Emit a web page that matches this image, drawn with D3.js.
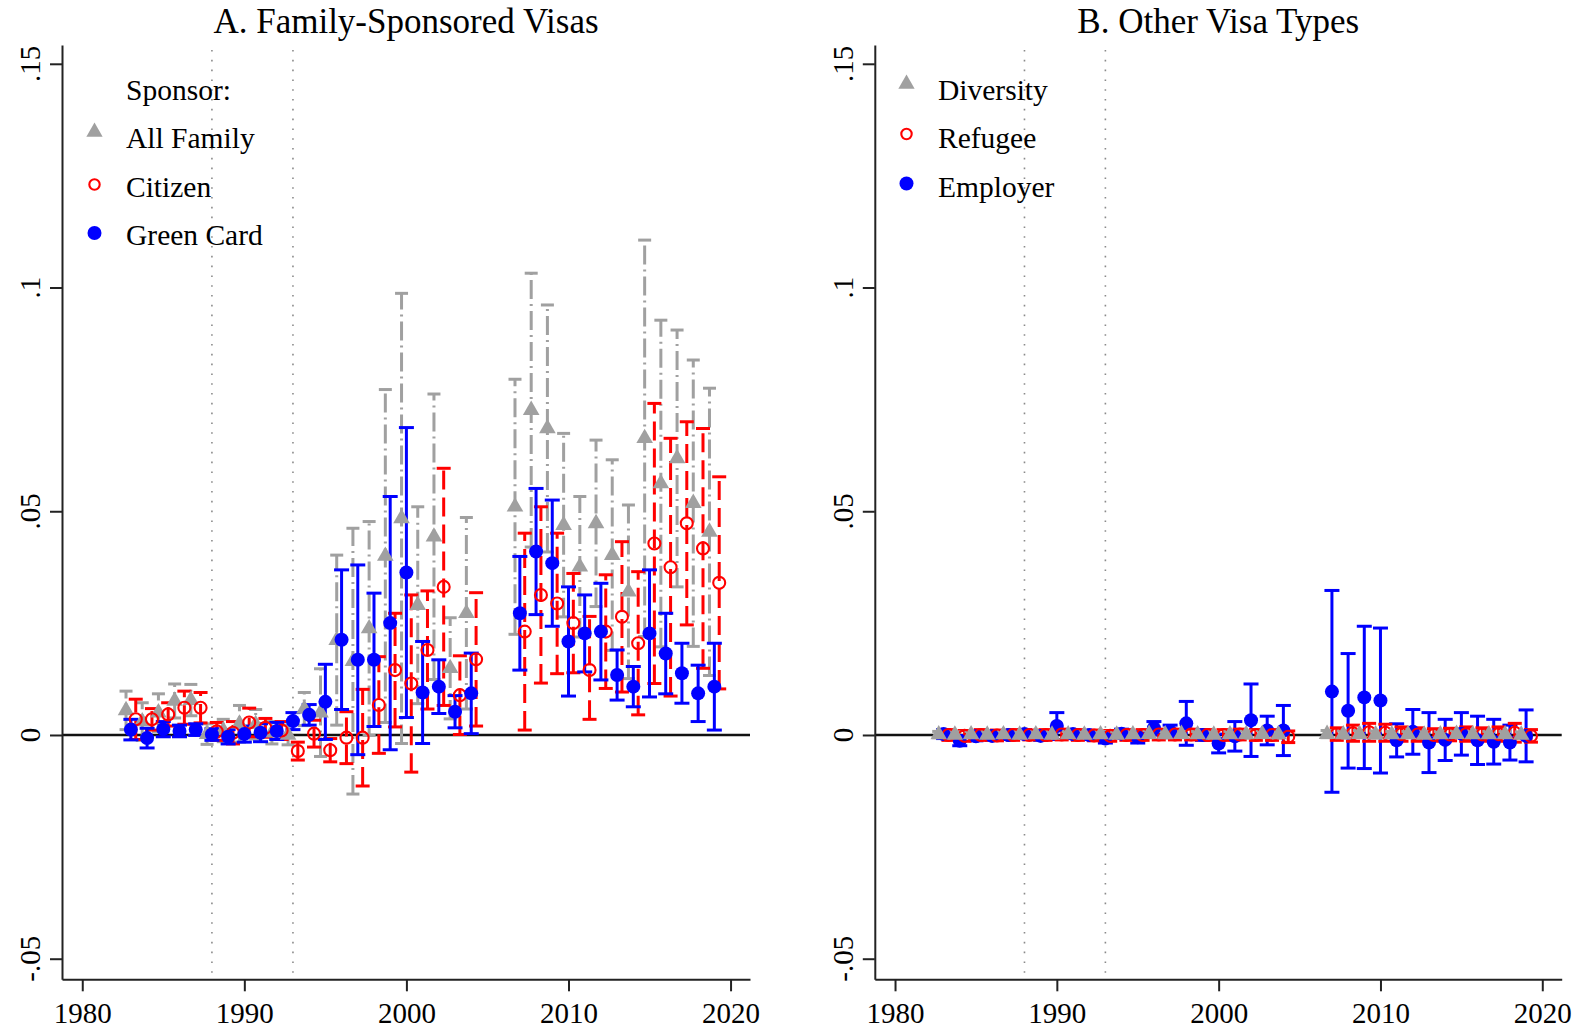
<!DOCTYPE html>
<html><head><meta charset="utf-8">
<script src="https://cdn.jsdelivr.net/npm/d3@7"></script>
<style>
html,body{margin:0;padding:0;background:#fff;}
svg{display:block;font-family:"Liberation Serif","Times New Roman",Times,serif;}
</style></head><body>
<svg id="chart" width="1580" height="1032"></svg>
<script>
// ---------------- DATA ----------------
const years = [1983,1984,1985,1986,1987,1988,1989,1990,1991,1992,1993,1994,1995,1996,1997,1998,1999,2000,2001,2002,2003,2004,
               2007,2008,2009,2010,2011,2012,2013,2014,2015,2016,2017,2018,2019];

// Panel A: Family-sponsored visas
const familyEst = [0.0055,0.0030,0.0050,0.0076,0.0078,0.0002,0.0010,0.0025,0.0024,0.0005,0.0000,0.0058,0.0050,0.0212,0.0165,0.0238,0.0400,0.0484,0.0290,0.0443,0.0149,0.0272,
                   0.0510,0.0726,0.0685,0.0469,0.0376,0.0473,0.0402,0.0320,0.0663,0.0562,0.0618,0.0518,0.0454];
const familyHi  = [0.0098,0.0072,0.0092,0.0114,0.0113,0.0025,0.0035,0.0066,0.0057,0.0030,0.0022,0.0095,0.0148,0.0402,0.0462,0.0477,0.0772,0.0987,0.0510,0.0762,0.0262,0.0486,
                   0.0795,0.1032,0.0961,0.0674,0.0533,0.0659,0.0615,0.0514,0.1106,0.0927,0.0905,0.0838,0.0775];
const familyLo  = [0.0012,-0.0012,0.0008,0.0038,0.0043,-0.0021,-0.0015,-0.0016,-0.0009,-0.0020,-0.0022,0.0021,-0.0048,0.0022,-0.0132,-0.0001,0.0028,-0.0019,0.0070,0.0124,0.0036,0.0058,
                   0.0225,0.0420,0.0409,0.0264,0.0219,0.0287,0.0189,0.0126,0.0220,0.0197,0.0331,0.0198,0.0133];

const citizenEst = [0.0035,0.0035,0.0046,0.0061,0.0061,0.0008,0.0005,0.0028,0.0016,0.0010,-0.0036,0.0003,-0.0034,-0.0006,-0.0006,0.0067,0.0145,0.0115,0.0190,0.0331,0.0089,0.0169,
                    0.0231,0.0313,0.0294,0.0250,0.0145,0.0231,0.0264,0.0205,0.0428,0.0375,0.0473,0.0417,0.0340];
const citizenHi  = [0.0080,0.0059,0.0072,0.0098,0.0095,0.0028,0.0030,0.0060,0.0037,0.0030,-0.0016,0.0033,-0.0008,0.0052,0.0102,0.0175,0.0272,0.0313,0.0322,0.0596,0.0177,0.0318,
                    0.0451,0.0510,0.0451,0.0361,0.0265,0.0358,0.0432,0.0365,0.0741,0.0663,0.0700,0.0685,0.0577];
const citizenLo  = [-0.0010,0.0011,0.0020,0.0024,0.0027,-0.0012,-0.0020,-0.0004,-0.0005,-0.0010,-0.0056,-0.0027,-0.0060,-0.0064,-0.0114,-0.0041,0.0018,-0.0083,0.0058,0.0066,0.0001,0.0020,
                    0.0011,0.0116,0.0137,0.0139,0.0035,0.0104,0.0096,0.0045,0.0115,0.0087,0.0246,0.0149,0.0103];

const greenEst = [0.0012,-0.0007,0.0013,0.0009,0.0012,0.0001,-0.0004,0.0002,0.0005,0.0009,0.0031,0.0045,0.0074,0.0213,0.0168,0.0168,0.0250,0.0363,0.0095,0.0108,0.0052,0.0093,
                  0.0272,0.0410,0.0384,0.0209,0.0227,0.0231,0.0134,0.0108,0.0227,0.0182,0.0138,0.0093,0.0108];
const greenHi  = [0.0035,0.0015,0.0030,0.0022,0.0025,0.0014,0.0012,0.0020,0.0025,0.0028,0.0050,0.0068,0.0158,0.0369,0.0380,0.0317,0.0533,0.0687,0.0209,0.0168,0.0088,0.0183,
                  0.0399,0.0551,0.0525,0.0331,0.0313,0.0339,0.0190,0.0153,0.0369,0.0272,0.0205,0.0156,0.0205];
const greenLo  = [-0.0011,-0.0029,-0.0004,-0.0004,-0.0001,-0.0012,-0.0020,-0.0016,-0.0015,-0.0010,0.0012,0.0022,-0.0010,0.0057,-0.0044,0.0019,-0.0033,0.0039,-0.0019,0.0048,0.0016,0.0003,
                  0.0145,0.0269,0.0243,0.0087,0.0141,0.0123,0.0078,0.0063,0.0085,0.0092,0.0071,0.0030,0.0011];

// Panel B: Other visa types
const diversityEst = [0.0001,0.0000,0.0001,0.0000,0.0001,0.0000,0.0001,0.0000,0.0001,0.0000,0.0001,0.0000,0.0001,0.0002,0.0001,0.0002,0.0001,0.0000,0.0001,0.0001,0.0002,0.0001,
                      0.0002,0.0001,0.0002,0.0001,0.0001,0.0001,0.0000,0.0001,0.0002,0.0001,0.0001,0.0001,0.0000];
const diversityHi  = [0.0008,0.0007,0.0008,0.0007,0.0008,0.0007,0.0008,0.0007,0.0008,0.0007,0.0008,0.0007,0.0008,0.0010,0.0008,0.0010,0.0008,0.0007,0.0008,0.0009,0.0010,0.0009,
                      0.0010,0.0009,0.0010,0.0009,0.0008,0.0008,0.0007,0.0008,0.0010,0.0009,0.0008,0.0008,0.0007];
const diversityLo  = [-0.0006,-0.0007,-0.0006,-0.0007,-0.0006,-0.0007,-0.0006,-0.0007,-0.0006,-0.0007,-0.0006,-0.0007,-0.0006,-0.0006,-0.0006,-0.0006,-0.0006,-0.0007,-0.0006,-0.0007,-0.0006,-0.0007,
                      -0.0006,-0.0007,-0.0006,-0.0007,-0.0006,-0.0006,-0.0007,-0.0006,-0.0006,-0.0007,-0.0006,-0.0006,-0.0007];

const refugeeEst = [0.0000,-0.0002,0.0000,-0.0001,0.0000,0.0000,0.0000,0.0001,0.0000,-0.0001,-0.0002,0.0000,0.0000,0.0001,0.0001,0.0001,0.0000,0.0000,0.0001,0.0000,0.0000,-0.0004,
                    0.0002,0.0004,0.0006,0.0005,0.0002,0.0001,0.0000,0.0001,0.0002,0.0001,0.0002,0.0005,-0.0002];
const refugeeHi  = [0.0012,0.0010,0.0012,0.0011,0.0012,0.0011,0.0012,0.0013,0.0012,0.0011,0.0010,0.0012,0.0012,0.0013,0.0013,0.0013,0.0012,0.0012,0.0013,0.0012,0.0012,0.0009,
                    0.0016,0.0022,0.0026,0.0024,0.0018,0.0016,0.0014,0.0015,0.0018,0.0016,0.0018,0.0026,0.0012];
const refugeeLo  = [-0.0012,-0.0014,-0.0012,-0.0013,-0.0012,-0.0011,-0.0012,-0.0011,-0.0012,-0.0013,-0.0014,-0.0012,-0.0012,-0.0011,-0.0011,-0.0011,-0.0012,-0.0012,-0.0011,-0.0012,-0.0012,-0.0017,
                    -0.0012,-0.0014,-0.0014,-0.0014,-0.0014,-0.0014,-0.0014,-0.0013,-0.0014,-0.0014,-0.0014,-0.0016,-0.0016];

const employerEst = [0.0002,-0.0013,-0.0003,-0.0002,0.0000,0.0002,-0.0002,0.0020,0.0002,0.0000,-0.0008,0.0003,-0.0005,0.0015,0.0008,0.0026,0.0000,-0.0019,-0.0003,0.0033,0.0010,0.0010,
                     0.0097,0.0054,0.0084,0.0077,-0.0012,0.0007,-0.0017,-0.0011,0.0003,-0.0012,-0.0015,-0.0017,-0.0002];
const employerHi  = [0.0012,-0.0002,0.0007,0.0008,0.0010,0.0012,0.0008,0.0050,0.0012,0.0010,0.0002,0.0013,0.0008,0.0030,0.0022,0.0075,0.0012,0.0002,0.0030,0.0114,0.0042,0.0066,
                     0.0323,0.0182,0.0243,0.0239,0.0025,0.0057,0.0050,0.0035,0.0050,0.0042,0.0035,0.0022,0.0056];
const employerLo  = [-0.0008,-0.0024,-0.0013,-0.0012,-0.0010,-0.0008,-0.0012,-0.0010,-0.0008,-0.0010,-0.0018,-0.0007,-0.0018,0.0000,-0.0006,-0.0023,-0.0012,-0.0040,-0.0036,-0.0048,-0.0022,-0.0046,
                     -0.0128,-0.0074,-0.0075,-0.0085,-0.0049,-0.0043,-0.0084,-0.0057,-0.0045,-0.0066,-0.0065,-0.0056,-0.0060];

const xTicks = [1980,1990,2000,2010,2020];
const xTickLabels = ["1980","1990","2000","2010","2020"];
const yTicks = [-0.05,0,0.05,0.1,0.15];
const yTickLabels = ["-.05","0",".05",".1",".15"];
const policyYears = [1988,1993];
const panelTitles = ["A. Family-Sponsored Visas","B. Other Visa Types"];
const legendTitleA = "Sponsor:";
const legendLabelsA = ["All Family","Citizen","Green Card"];
const legendLabelsB = ["Diversity","Refugee","Employer"];

// ---------------- STYLES ----------------
const GRAY = "#a0a0a0", RED = "#ff0000", BLUE = "#0000ff";
const styles = {
  tri:  {color:GRAY, dash:"19,5,2,5", cap:13, off:-0.3, width:3},
  ring: {color:RED,  dash:"19,8",     cap:14, off: 0.3, width:3},
  dot:  {color:BLUE, dash:null,       cap:15, off: 0.0, width:3}
};
const FONT_TICK = 29, FONT_TITLE = 35, FONT_LEG = 29.5;

const svg = d3.select("#chart");
const y = d3.scaleLinear().domain([-0.0546,0.1542]).range([979.3,45]);
const xDomain = [1978.75, 2021.2];

const panels = [
  {x0:62, x1:750, title:panelTitles[0],
   series:[
     {kind:"tri",  est:familyEst,  lo:familyLo,  hi:familyHi},
     {kind:"ring", est:citizenEst, lo:citizenLo, hi:citizenHi},
     {kind:"dot",  est:greenEst,   lo:greenLo,   hi:greenHi}],
   barOrder:[0,1,2], markOrder:[0,1,2],
   legend:{title:legendTitleA, titleY:100, textX:126, markX:94.5, labels:legendLabelsA,
           textY:[148,197,245], markY:[132,184.5,233]}},
  {x0:874.8, x1:1561.7, title:panelTitles[1],
   series:[
     {kind:"tri",  est:diversityEst, lo:diversityLo, hi:diversityHi},
     {kind:"ring", est:refugeeEst,   lo:refugeeLo,   hi:refugeeHi},
     {kind:"dot",  est:employerEst,  lo:employerLo,  hi:employerHi}],
   barOrder:[2,1,0], markOrder:[2,1,0],
   legend:{title:null, textX:938, markX:906.5, labels:legendLabelsB,
           textY:[100,148,197], markY:[84,134,183.5]}}
];

function drawMarker(g, kind, cx, cy, legend){
  const st = styles[kind];
  if(kind==="tri"){
    g.append("path").attr("d", d3.symbol().type(d3.symbolTriangle).size(legend?115:120)())
      .attr("transform",`translate(${cx},${cy})`).attr("fill",st.color);
  } else if(kind==="ring"){
    g.append("circle").attr("cx",cx).attr("cy",cy).attr("r",legend?5.2:6)
      .attr("fill","none").attr("stroke",st.color).attr("stroke-width",2.1);
  } else {
    g.append("circle").attr("cx",cx).attr("cy",cy).attr("r",7).attr("fill",st.color);
  }
}

panels.forEach(p=>{
  const x = d3.scaleLinear().domain(xDomain).range([p.x0,p.x1]);
  const g = svg.append("g");

  // policy lines
  g.selectAll("line.pol").data(policyYears).enter().append("line")
    .attr("x1",d=>x(d)).attr("x2",d=>x(d)).attr("y1",50).attr("y2",979)
    .attr("stroke","#8a8a8a").attr("stroke-width",1.6).attr("stroke-dasharray","1.6,8.2");

  // zero line
  g.append("line").attr("x1",p.x0).attr("x2",p.x1).attr("y1",y(0)).attr("y2",y(0))
    .attr("stroke","#111").attr("stroke-width",2.3);

  // axes
  const ax = g.append("g").attr("transform",`translate(0,${y.range()[0]})`)
    .call(d3.axisBottom(x).tickValues(xTicks).tickSize(12).tickSizeOuter(0).tickFormat((d,i)=>xTickLabels[i]).tickPadding(11));
  ax.select(".domain").attr("stroke","#222").attr("stroke-width",2);
  ax.selectAll(".tick line").attr("stroke","#222").attr("stroke-width",2);
  ax.selectAll(".tick text").attr("font-size",FONT_TICK).attr("fill","#000")
    .attr("font-family","'Liberation Serif','Times New Roman',serif");

  const ay = g.append("g").attr("transform",`translate(${p.x0},0)`)
    .call(d3.axisLeft(y).tickValues(yTicks).tickSize(12).tickSizeOuter(0).tickFormat(""));
  ay.select(".domain").attr("stroke","#222").attr("stroke-width",2);
  ay.selectAll(".tick line").attr("stroke","#222").attr("stroke-width",2);
  g.selectAll("text.ylab").data(yTicks).enter().append("text")
    .attr("transform",(d)=>`translate(${p.x0-22},${y(d)}) rotate(-90)`)
    .attr("text-anchor","middle").attr("font-size",FONT_TICK).text((d,i)=>yTickLabels[i]);

  // title
  g.append("text").attr("x",(p.x0+p.x1)/2).attr("y",33).attr("text-anchor","middle")
    .attr("font-size",FONT_TITLE).text(p.title);

  // error bars
  p.barOrder.forEach(si=>{
    const s = p.series[si], st = styles[s.kind];
    const bg = g.append("g").attr("stroke",st.color).attr("stroke-width",st.width).attr("fill","none");
    years.forEach((yr,i)=>{
      const cx = x(yr+st.off);
      bg.append("line").attr("x1",cx).attr("x2",cx).attr("y1",y(s.lo[i])).attr("y2",y(s.hi[i]))
        .attr("stroke-dasharray",st.dash);
      bg.append("line").attr("x1",cx-st.cap/2).attr("x2",cx+st.cap/2).attr("y1",y(s.lo[i])).attr("y2",y(s.lo[i]));
      bg.append("line").attr("x1",cx-st.cap/2).attr("x2",cx+st.cap/2).attr("y1",y(s.hi[i])).attr("y2",y(s.hi[i]));
    });
  });
  // markers
  p.markOrder.forEach(si=>{
    const s = p.series[si], st = styles[s.kind];
    const mg = g.append("g");
    years.forEach((yr,i)=>drawMarker(mg, s.kind, x(yr+st.off), y(s.est[i]), false));
  });

  // legend
  const L = p.legend, lg = g.append("g");
  if(L.title) lg.append("text").attr("x",L.textX).attr("y",L.titleY).attr("font-size",FONT_LEG).text(L.title);
  p.series.forEach((s,i)=>{
    drawMarker(lg, s.kind, L.markX, L.markY[i], true);
    lg.append("text").attr("x",L.textX).attr("y",L.textY[i]).attr("font-size",FONT_LEG).text(L.labels[i]);
  });
});
</script></body></html>
